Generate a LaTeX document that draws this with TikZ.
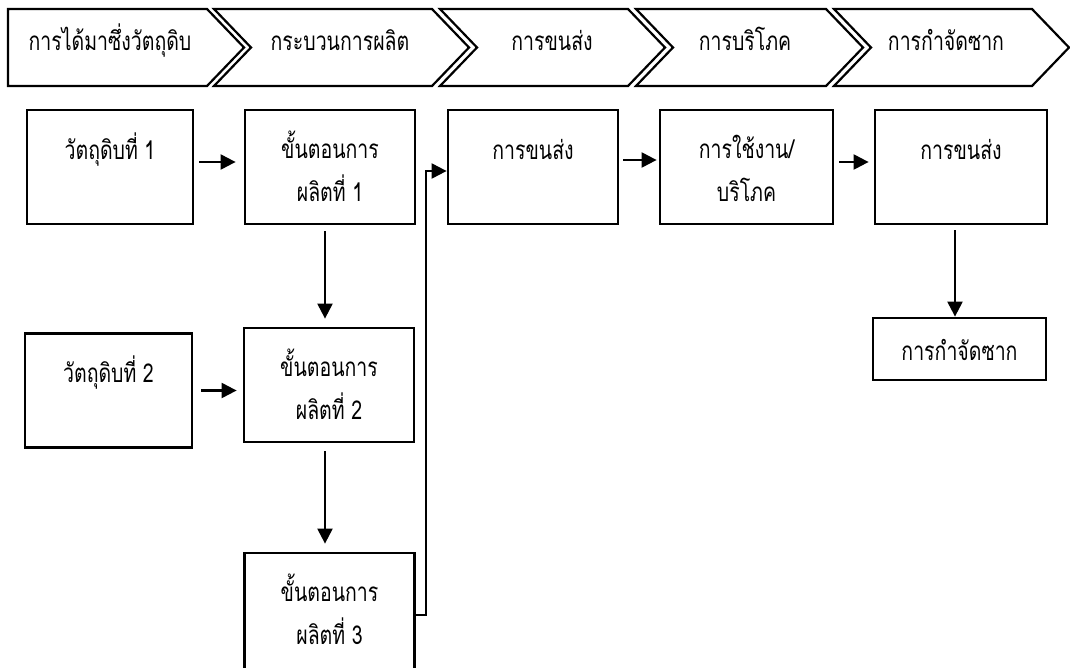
\documentclass[tikz,border=0pt]{standalone}
\usepackage{fontspec}
\newfontfamily\thaifont[Script=Thai, FakeStretch=0.75]{Loma}
\usepackage{tikz}
\usetikzlibrary{positioning}
\usetikzlibrary{arrows.meta}

\tikzset{
	stage/.style={draw, line width=2.2pt, line join=miter},
	stagetext/.style={anchor=base, inner sep=0pt, font=\thaifont\fontsize{26}{30}\selectfont},
	box/.style={draw, line width=2.8pt, minimum width=170pt, minimum height=114pt,
		inner sep=0pt, align=center, text height=49pt, text depth=65pt,
		font=\thaifont\fontsize{26}{43}\selectfont},
	% two lines: the height is counted to the second line
	boxtwo/.style={box, text height=91pt, text depth=23pt},
	arr/.style={line width=2.2pt, -{Triangle[length=15pt,width=15pt]}},
}

\begin{document}
\begin{tikzpicture}[x=1pt, y=-1pt]
	
	\useasboundingbox (0,0) rectangle (1070,667);
	
	% STAGES ALONG THE TOP: the first one has a flat left side,
	%		the others are cut in where the one before points in
	\draw[stage] (8,9) -- (207,9) -- (244,47.5) -- (207,86) -- (8,86) -- cycle;
	\draw[stage] (214,9) -- (432,9) -- (469,47.5) -- (432,86) -- (214,86) -- (251,47.5) -- cycle;
	\draw[stage] (440,9) -- (628,9) -- (665,47.5) -- (628,86) -- (440,86) -- (477,47.5) -- cycle;
	\draw[stage] (636,9) -- (826,9) -- (863,47.5) -- (826,86) -- (636,86) -- (673,47.5) -- cycle;
	\draw[stage] (834,9) -- (1032,9) -- (1069,47.5) -- (1032,86) -- (834,86) -- (871,47.5) -- cycle;
	
	\node[stagetext] (S1) at (110,50) {การได้มาซึ่งวัตถุดิบ};
	\node[stagetext] (S2) at (340,50) {กระบวนการผลิต};
	\node[stagetext] (S3) at (552,50) {การขนส่ง};
	\node[stagetext] (S4) at (745,50) {การบริโภค};
	\node[stagetext] (S5) at (946,50) {การกำจัดซาก};
	
	%%%%%%%%%%%%%%%%%%%%%%%%%%%%%%%%%%%%%%%%%%%%%%%%%%%%%%%%%%%%%%
	% BOXES
	\node[box, minimum width=166pt] (R1) at (110,167) {วัตถุดิบที่ 1};
	\node[boxtwo] (P1) at (330,167) {ขั้นตอนการ\\ผลิตที่ 1};
	\node[box] (T1) at (533,167) {การขนส่ง};
	\node[boxtwo, minimum width=173pt] (U) at (746.5,167) {การใช้งาน/\\บริโภค};
	\node[box, minimum width=172pt] (T2) at (961,167) {การขนส่ง};
	\node[box, minimum width=173pt, minimum height=62pt, text height=42pt, text depth=20pt] (D) at (959.5,349) {การกำจัดซาก};
	
	\node[box, minimum width=167pt] (R2) at (108.5,390.5) {วัตถุดิบที่ 2};
	\node[boxtwo] (P2) at (329,385) {ขั้นตอนการ\\ผลิตที่ 2};
	
	% NOTE: runs off the bottom edge, as in the page it came from
	\node[boxtwo, minimum height=124pt, text depth=33pt] (P3) at (329.5,615) {ขั้นตอนการ\\ผลิตที่ 3};
	
	%%%%%%%%%%%%%%%%%%%%%%%%%%%%%%%%%%%%%%%%%%%%%%%%%%%%%%%%%%%%%%
	% ARROWS
	\draw[arr, shorten <=5pt, shorten >=8pt] ([yshift=5pt]R1.east) -- ([yshift=5pt]R1.east -| P1.west);
	\draw[arr, shorten <=8pt, shorten >=6pt] (R2.east) -- (R2.east -| P2.west);
	\draw[arr, shorten <=6pt, shorten >=8pt] ([xshift=-5pt]P1.south) -- ([xshift=-5pt]P1.south |- P2.north);
	\draw[arr, shorten <=8pt, shorten >=8pt] ([xshift=-4pt]P2.south) -- ([xshift=-4pt]P2.south |- P3.north);
	\draw[arr] (P3.east) -- ++(10,0) |- ([yshift=-4pt]T1.west);
	\draw[arr, shorten <=4pt, shorten >=2pt] ([yshift=7pt]T1.east) -- ([yshift=7pt]T1.east -| U.west);
	\draw[arr, shorten <=5pt, shorten >=5pt] ([yshift=5pt]U.east) -- ([yshift=5pt]U.east -| T2.west);
	\draw[arr, shorten <=5pt] ([xshift=-6pt]T2.south) -- ([xshift=-6pt]T2.south |- D.north);
	
\end{tikzpicture}
\end{document}
